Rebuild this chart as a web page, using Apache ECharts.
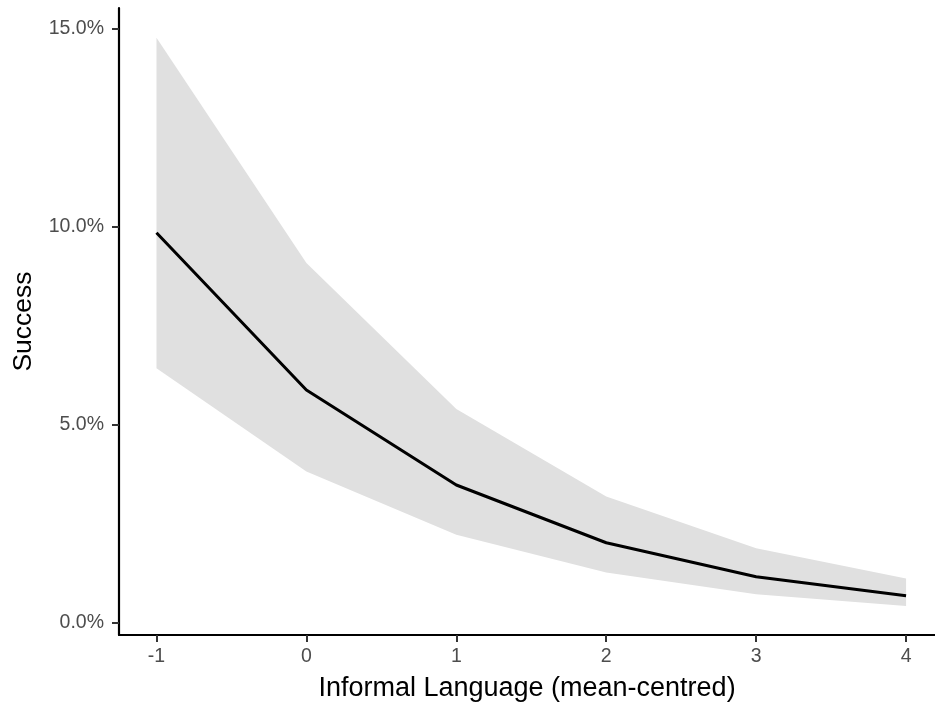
<!DOCTYPE html>
<html>
<head>
<meta charset="utf-8">
<script src="https://cdn.jsdelivr.net/npm/echarts@6/dist/echarts.min.js"></script>
<style>
html,body{margin:0;padding:0;background:#fff;}
#chart{width:935px;height:704px;}
</style>
</head>
<body>
<div id="chart"></div>
<script>
var xValues = [-1, 0, 1, 2, 3, 4];
var fitValues = [9.84, 5.87, 3.47, 2.01, 1.15, 0.67];
var upperValues = [14.77, 9.08, 5.39, 3.18, 1.87, 1.11];
var lowerValues = [6.42, 3.81, 2.21, 1.26, 0.71, 0.41];
var xTicks = [-1, 0, 1, 2, 3, 4];
var yTicks = [0, 5, 10, 15];

var FONT = "'Liberation Sans', Arial, sans-serif";
var chart = echarts.init(document.getElementById('chart'), null, {renderer: 'canvas'});

var bandData = xValues.map(function (x, i) { return [x, lowerValues[i], upperValues[i]]; });
var lineData = xValues.map(function (x, i) { return [x, fitValues[i]]; });

chart.setOption({
  animation: false,
  backgroundColor: '#ffffff',
  grid: {left: 119, right: 0, top: 8, bottom: 69, containLabel: false, outerBoundsMode: 'none'},
  xAxis: {
    type: 'value',
    min: -1.25, max: 4.193,
    name: 'Informal Language (mean-centred)',
    nameLocation: 'middle',
    nameGap: 40,
    nameTextStyle: {color: '#000', fontSize: 27, fontFamily: FONT, verticalAlign: 'top'},
    axisLine: {show: true, onZero: false, lineStyle: {color: '#000', width: 2.2}},
    axisTick: {show: true, length: 7, lineStyle: {color: '#333', width: 2}, customValues: xTicks},
    axisLabel: {show: true, color: '#4d4d4d', fontSize: 19.5, fontFamily: FONT, margin: 12, customValues: xTicks,
      formatter: function (v) { return String(v); }},
    splitLine: {show: false}
  },
  yAxis: {
    type: 'value',
    min: -0.32, max: 15.52,
    name: 'Success',
    nameLocation: 'middle',
    nameGap: 82,
    nameRotate: 90,
    nameTextStyle: {color: '#000', fontSize: 26.5, fontFamily: FONT},
    axisLine: {show: true, onZero: false, lineStyle: {color: '#000', width: 2.2}},
    axisTick: {show: true, length: 7, lineStyle: {color: '#333', width: 2}, customValues: yTicks},
    axisLabel: {show: true, color: '#4d4d4d', fontSize: 19.5, fontFamily: FONT, margin: 15, customValues: yTicks,
      formatter: function (v) { return v.toFixed(1) + '%'; }},
    splitLine: {show: false}
  },
  series: [
    {
      type: 'custom',
      data: bandData,
      encode: {x: 0, y: [1, 2]},
      clip: true,
      z: 1,
      renderItem: function (params, api) {
        if (params.dataIndex !== 0) return null;
        var pts = [];
        for (var i = 0; i < bandData.length; i++) pts.push(api.coord([bandData[i][0], bandData[i][2]]));
        for (var j = bandData.length - 1; j >= 0; j--) pts.push(api.coord([bandData[j][0], bandData[j][1]]));
        return {type: 'polygon', shape: {points: pts}, style: {fill: '#e0e0e0', stroke: null}};
      }
    },
    {
      type: 'line',
      data: lineData,
      showSymbol: false,
      symbol: 'none',
      z: 3,
      lineStyle: {color: '#000', width: 3}
    }
  ]
});
</script>
</body>
</html>
